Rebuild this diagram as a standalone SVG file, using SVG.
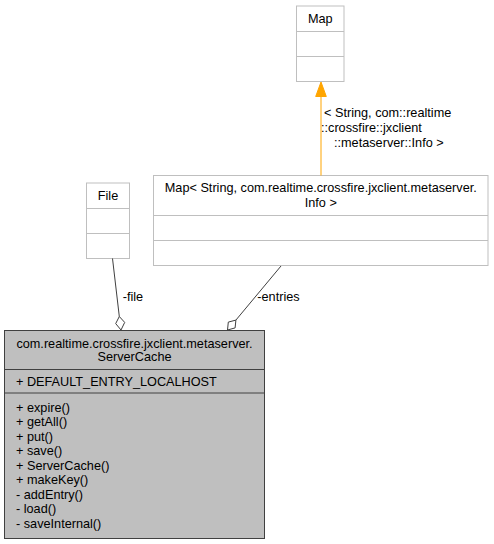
<svg xmlns="http://www.w3.org/2000/svg" width="494" height="544" viewBox="0 0 494 544">
<style>
text{font-family:"Liberation Sans",Arial,sans-serif;font-size:12.7px;fill:#000}
.c{text-anchor:middle}
.box{fill:#fff;stroke:#bfbfbf;stroke-width:1}
.main{fill:#bfbfbf;stroke:#404040;stroke-width:1}
.dl{stroke:#bfbfbf;stroke-width:1}
.dm{stroke:#404040;stroke-width:1}
.edge{stroke:#404040;stroke-width:1;fill:none}
</style>
<rect width="494" height="544" fill="#fff"/>
<g id="node-map">
<rect class="box" x="296.5" y="6" width="47.5" height="75.5"/>
<line class="dl" x1="296.5" y1="31.5" x2="344" y2="31.5"/>
<line class="dl" x1="296.5" y1="56.5" x2="344" y2="56.5"/>
<text class="c" x="320.3" y="23">Map</text>
</g>
<g id="node-mapinfo">
<rect class="box" x="153.5" y="175.5" width="334.5" height="90"/>
<line class="dl" x1="153.5" y1="215.5" x2="488" y2="215.5"/>
<line class="dl" x1="153.5" y1="240.5" x2="488" y2="240.5"/>
<text class="c" x="320.8" y="192">Map&lt; String, com.realtime.crossfire.jxclient.metaserver.</text>
<text class="c" x="320.8" y="206.8">Info &gt;</text>
</g>
<g id="node-file">
<rect class="box" x="86.5" y="183" width="43" height="75.5"/>
<line class="dl" x1="86.5" y1="208.5" x2="129.5" y2="208.5"/>
<line class="dl" x1="86.5" y1="233.5" x2="129.5" y2="233.5"/>
<text class="c" x="108" y="199.5">File</text>
</g>
<g id="node-servercache">
<rect class="main" x="4.5" y="330.5" width="260" height="208"/>
<line class="dm" x1="4.5" y1="369.5" x2="264.5" y2="369.5"/>
<line class="dm" x1="4.5" y1="393" x2="264.5" y2="393"/>
<text class="c" x="134.5" y="348">com.realtime.crossfire.jxclient.metaserver.</text>
<text class="c" x="134.5" y="361.3">ServerCache</text>
<text x="16" y="385.5">+ DEFAULT_ENTRY_LOCALHOST</text>
<text x="16" y="411.8">+ expire()</text>
<text x="16" y="426.3">+ getAll()</text>
<text x="16" y="440.8">+ put()</text>
<text x="16" y="455.3">+ save()</text>
<text x="16" y="469.8">+ ServerCache()</text>
<text x="16" y="484.3">+ makeKey()</text>
<text x="16" y="498.8">- addEntry()</text>
<text x="16" y="513.3">- load()</text>
<text x="16" y="527.8">- saveInternal()</text>
</g>
<g id="connectors">
<line x1="321" y1="175.5" x2="321" y2="96" stroke="#ffa500" stroke-width="1"/>
<polygon points="321,82 326.3,96.5 315.7,96.5" fill="#ffa500" stroke="#ffa500"/>
<text x="324" y="117">&lt; String, com::realtime</text>
<text x="321" y="132">::crossfire::jxclient</text>
<text x="334" y="147">::metaserver::Info &gt;</text>
<line class="edge" x1="112.5" y1="258.5" x2="119.3" y2="316.5"/>
<polygon class="edge" fill="#fff" points="121,330 124.7,322.4 119.3,316.5 115.7,323.6"/>
<text x="122.7" y="301">-file</text>
<line class="edge" x1="281" y1="266" x2="235.9" y2="320.1"/>
<polygon class="edge" fill="#fff" points="227.5,330 235.1,327.9 235.9,320.1 228.3,322.1"/>
<text x="257.3" y="301">-entries</text>
</g>
</svg>
